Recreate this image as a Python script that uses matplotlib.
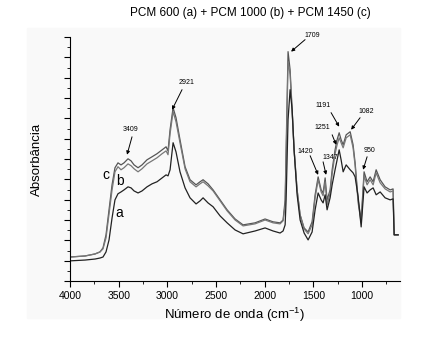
import numpy as np
import matplotlib.pyplot as plt
from matplotlib.patches import Rectangle
from matplotlib.ticker import MultipleLocator, NullFormatter

plt.rcParams['font.family'] = ['Liberation Sans', 'DejaVu Sans']

# numero de onda (cm-1)
wn = [4000, 3846, 3743, 3692, 3661, 3630, 3599, 3568, 3538, 3507, 3476, 3445,
      3404, 3373, 3342, 3301, 3260, 3209, 3157, 3106, 3054, 3013, 2993, 2972,
      2941, 2911, 2870, 2818, 2767, 2705, 2664, 2633, 2582, 2530, 2458, 2386,
      2304, 2222, 2099, 1996, 1914, 1842, 1811, 1790, 1780, 1760, 1739, 1718,
      1698, 1667, 1636, 1595, 1554, 1513, 1482, 1451, 1420, 1400, 1379, 1359,
      1328, 1307, 1277, 1256, 1235, 1215, 1194, 1163, 1122, 1092, 1071, 1040,
      1009, 979, 948, 917, 886, 855, 814, 763, 711, 681, 670, 629]

# absorbancia (u.a.)
abs_c = [1.18, 1.23, 1.33, 1.43, 1.63, 2.27, 3.50, 4.73, 5.57, 5.81, 5.71, 5.81,
         6.01, 5.91, 5.71, 5.57, 5.71, 5.96, 6.11, 6.26, 6.45, 6.60, 6.40, 7.44,
         8.52, 8.03, 6.95, 5.62, 4.98, 4.73, 4.88, 4.98, 4.78, 4.48, 3.99, 3.50,
         3.05, 2.76, 2.86, 3.05, 2.91, 2.86, 3.00, 3.99, 6.45, 11.28, 10.39, 8.42,
         6.45, 4.48, 3.25, 2.61, 2.41, 2.91, 4.24, 5.12, 4.48, 4.33, 5.07, 3.99,
         4.48, 5.47, 6.45, 6.95, 7.29, 6.95, 6.70, 7.19, 7.34, 6.70, 5.81, 3.99,
         3.00, 5.37, 4.88, 5.12, 4.88, 5.47, 4.98, 4.63, 4.48, 4.53, 2.27, 2.27]

abs_b = [1.18, 1.23, 1.33, 1.43, 1.58, 2.12, 3.30, 4.48, 5.37, 5.62, 5.47, 5.57,
         5.76, 5.67, 5.52, 5.37, 5.52, 5.76, 5.91, 6.06, 6.26, 6.40, 6.21, 7.24,
         8.33, 7.83, 6.80, 5.52, 4.88, 4.63, 4.78, 4.88, 4.68, 4.43, 3.94, 3.45,
         3.00, 2.71, 2.81, 3.00, 2.86, 2.81, 2.96, 3.74, 5.96, 10.79, 10.15, 8.33,
         6.45, 4.48, 3.25, 2.56, 2.32, 2.76, 4.09, 4.98, 4.38, 4.19, 4.88, 3.74,
         4.33, 5.27, 6.26, 6.70, 7.04, 6.80, 6.55, 7.04, 7.19, 6.55, 5.67, 3.84,
         2.86, 5.17, 4.73, 4.98, 4.73, 5.32, 4.83, 4.53, 4.38, 4.43, 2.27, 2.27]

abs_a = [0.99, 1.03, 1.08, 1.13, 1.18, 1.43, 2.02, 3.10, 3.99, 4.29, 4.38, 4.48,
         4.63, 4.58, 4.43, 4.33, 4.43, 4.63, 4.78, 4.88, 5.07, 5.22, 5.17, 5.47,
         6.80, 6.35, 5.37, 4.58, 4.09, 3.79, 3.94, 4.09, 3.84, 3.65, 3.20, 2.86,
         2.51, 2.32, 2.46, 2.61, 2.46, 2.36, 2.46, 2.76, 3.99, 7.93, 9.41, 8.42,
         6.45, 4.24, 3.00, 2.36, 2.02, 2.41, 3.50, 4.33, 3.99, 3.84, 4.24, 3.50,
         4.09, 4.73, 5.47, 5.96, 6.45, 5.96, 5.37, 5.71, 5.47, 5.32, 5.12, 4.14,
         2.66, 4.63, 4.33, 4.48, 4.58, 4.24, 4.38, 4.09, 3.99, 4.04, 2.27, 2.27]

# rotulos dos picos: texto, posicao do texto, cauda e ponta da seta
peak_labels = ['3409', '2921', '1709', '1191', '1082', '1251', '1420', '1347', '950']
text_pos = [(3383, 7.44), (2798, 9.75), (1513, 12.07), (1400, 8.62), (958, 8.33),
            (1410, 7.54), (1585, 6.35), (1328, 6.06), (927, 6.40)]
arrow_tail = [(3363, 7.09), (2849, 9.41), (1585, 11.87), (1318, 8.28), (1020, 8.03),
              (1307, 7.19), (1533, 6.16), (1400, 5.86), (948, 6.11)]
arrow_head = [(3414, 6.21), (2952, 8.42), (1729, 11.28), (1235, 7.59), (1112, 7.44),
              (1266, 6.70), (1451, 5.22), (1369, 5.22), (989, 5.47)]

# rotulos das curvas
curve_names = ['c', 'b', 'a']
curve_pos = [(3630, 5.22), (3486, 4.93), (3496, 3.35)]

fig = plt.figure(figsize=(4.44, 3.48), dpi=100)
# fundo cinza claro da digitalizacao
fig.patches.append(Rectangle((27 / 444, 1 - 318 / 348), (400 - 27) / 444, (318 - 28) / 348,
                             transform=fig.transFigure, color='#f9f9f9', zorder=-5))

ax = fig.add_axes([70 / 444, 1 - 281 / 348, 330 / 444, 244 / 348])
ax.patch.set_alpha(0)
ax.set_zorder(2)

ax.plot(wn, abs_c, color='#555555', lw=0.9)
ax.plot(wn, abs_b, color='#777777', lw=0.9)
ax.plot(wn, abs_a, color='#222222', lw=0.9)

for lab, tp, tl, hd in zip(peak_labels, text_pos, arrow_tail, arrow_head):
    ax.text(tp[0], tp[1], lab, fontsize=5, ha='center', va='center')
    ax.annotate('', xy=hd, xytext=tl,
                arrowprops=dict(arrowstyle='-|>', color='k', lw=0.7,
                                mutation_scale=5, shrinkA=0, shrinkB=0))

for name, pos in zip(curve_names, curve_pos):
    ax.text(pos[0], pos[1], name, fontsize=10, ha='center', va='center')

ax.set_xlim(4000, 610)
ax.set_ylim(0, 12)
ax.xaxis.set_major_locator(MultipleLocator(500))
ax.xaxis.set_minor_locator(MultipleLocator(250))
ax.yaxis.set_major_locator(MultipleLocator(1))
ax.yaxis.set_minor_locator(MultipleLocator(0.5))
ax.yaxis.set_major_formatter(NullFormatter())
ax.tick_params(axis='both', which='major', length=4, width=0.8, labelsize=7.5)
ax.tick_params(axis='both', which='minor', length=2, width=0.6)

ax.spines['top'].set_visible(False)
ax.spines['right'].set_visible(False)

ax.set_xlabel('Número de onda (cm$^{\\mathregular{-1}}$)', fontsize=9.5, labelpad=3)
ax.set_ylabel('Absorbância', fontsize=9.5, labelpad=12)
fig.text(250 / 444, 1 - 13 / 348, 'PCM 600 (a) + PCM 1000 (b) + PCM 1450 (c)',
         fontsize=8.5, ha='center', va='center')

fig.savefig('out.png', dpi=100)
